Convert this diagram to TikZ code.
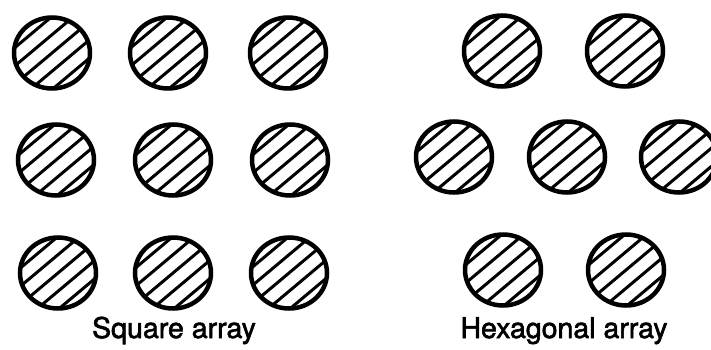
\documentclass[tikz,border=0pt]{standalone}
\usepackage{fontspec}
\setmainfont{TeX Gyre Heros}
\newfontfamily\capfont{TeX Gyre Heros}[BoldFont={TeX Gyre Heros}, BoldFeatures={FakeBold=2}]
\usetikzlibrary{shapes.geometric,calc}

\begin{document}
\begin{tikzpicture}[x=1pt, y=1pt, thick,
    rod/.style={draw, ellipse, line width=4.5pt, inner sep=0pt,
        minimum width=76pt, minimum height=71pt,
        path picture={
            \coordinate (c) at (path picture bounding box.center);
            \foreach \d in {-3,...,3} {
                \draw[line width=3pt]
                    ($(c)+(130:\d*14)+(220:60)$) -- ($(c)+(130:\d*14)+(40:60)$);
            }
        }},
    caption/.style={font=\capfont\bfseries\fontsize{28.5}{30}\selectfont, anchor=base}]
    % 画布范围
    \useasboundingbox (0,0) rectangle (711,-350);
    \clip (0,0) rectangle (711,-350);

    % 正方形排列
    \foreach \x/\y/\n in {52/53/sqA, 168/53/sqB, 288/53/sqC,
                          56/160/sqD, 173/160/sqE, 290/160/sqF,
                          58/273/sqG, 173/273/sqH, 289/273/sqI} {
        \node[rod] (\n) at (\x,-\y) {};
    }

    % 六边形排列
    \foreach \x/\y/\n in {502/51/hxA, 625/51/hxB,
                          454/157/hxC, 567/157/hxD, 679/157/hxE,
                          503/270/hxF, 626/270/hxG} {
        \node[rod] (\n) at (\x,-\y) {};
    }

    % 标题
    \node[caption] (sqlabel) at (174,-338) {Square array};
    \node[caption] (hxlabel) at (564,-338) {Hexagonal array};
\end{tikzpicture}
\end{document}
